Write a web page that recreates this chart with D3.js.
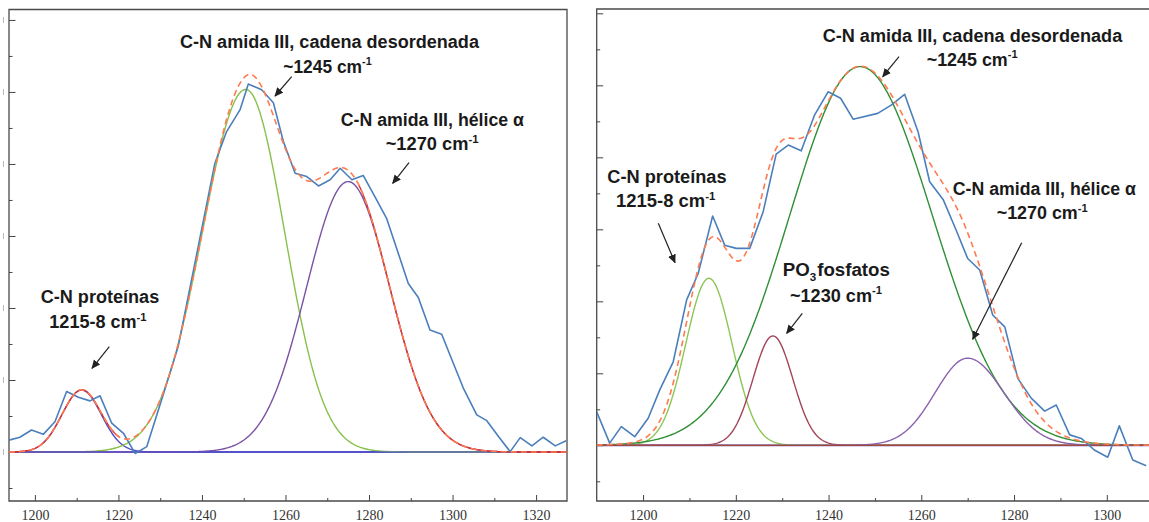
<!DOCTYPE html>
<html lang="es">
<head>
<meta charset="UTF-8">
<title>Deconvolución banda amida III</title>
<style>
  body { margin: 0; background: #fff; }
  svg { display: block; }
  .axis .tick text { font-family: "Liberation Serif", "Times New Roman", serif; font-size: 14px; fill: #333; }
  .axis .tick line { stroke: #444; }
  .note { font-family: "Liberation Sans Narrow", "Liberation Sans", Arial, sans-serif; font-weight: bold; font-size: 18.5px; fill: #1a1a1a; }
</style>
</head>
<body>
<svg id="chart" width="1149" height="522"></svg>
<script src="https://cdn.jsdelivr.net/npm/d3@7"></script>
<script>
// ---------- left spectrum: measured points (cm-1, absorbance in tick units) ----------
const wnA  = [1193.8, 1196.4, 1199.2, 1202.0, 1204.8, 1207.6, 1210.4, 1213.2, 1215.6, 1218.4,
              1221.2, 1224.0, 1226.8, 1230.7, 1234.3, 1239.1, 1243.1, 1245.9, 1249.1, 1251.1,
              1254.3, 1257.1, 1259.5, 1262.3, 1265.1, 1267.9, 1270.7, 1273.1, 1275.9, 1278.6,
              1281.4, 1284.2, 1286.6, 1289.4, 1291.8, 1294.6, 1297.4, 1300.2, 1302.6, 1305.8,
              1308.2, 1311.0, 1313.8, 1316.2, 1319.0, 1321.7, 1324.6, 1327.2];
const absA = [0.33, 0.41, 0.61, 0.49, 0.84, 1.68, 1.52, 1.42, 1.56, 0.80,
              0.52, -0.04, 0.15, 1.58, 2.93, 5.70, 8.02, 8.90, 9.50, 10.22,
              10.06, 9.70, 8.62, 7.74, 7.65, 7.39, 7.56, 7.88, 7.56, 7.68,
              7.09, 6.49, 5.66, 4.68, 4.29, 3.39, 3.27, 2.46, 1.77, 1.03,
              0.87, 0.43, 0.01, 0.40, 0.17, 0.41, 0.17, 0.31];
// fitted bands: proteínas, cadena desordenada, hélice α
const centerA = [1211.2, 1250.5, 1275.0];
const heightA = [1.72, 10.07, 7.51];
const sigLA   = [4.7, 10.4, 10.0];
const sigRA   = [4.7, 9.3, 10.0];
const xTicksA = [1200, 1220, 1240, 1260, 1280, 1300, 1320];

// ---------- right spectrum ----------
const wnB  = [1190.0, 1192.8, 1195.3, 1198.2, 1201.1, 1203.6, 1206.5, 1209.4, 1211.9, 1215.0,
              1217.6, 1220.1, 1223.0, 1225.9, 1228.7, 1231.3, 1234.1, 1237.0, 1239.9, 1242.6,
              1245.3, 1250.6, 1253.5, 1256.4, 1259.3, 1261.8, 1264.7, 1267.5, 1270.0, 1272.6,
              1275.4, 1278.0, 1280.8, 1283.7, 1286.6, 1289.1, 1292.0, 1294.5, 1297.3, 1300.2,
              1302.7, 1305.6, 1308.5];
const absB = [0.93, 0.06, 0.52, 0.24, 0.75, 1.54, 2.32, 4.04, 4.78, 6.37,
              5.56, 5.47, 5.47, 6.49, 8.09, 8.34, 8.18, 9.18, 9.82, 9.64,
              9.06, 9.22, 9.45, 9.75, 8.71, 7.32, 6.83, 5.98, 5.19, 4.87,
              3.62, 3.29, 1.86, 1.31, 0.95, 1.12, 0.29, 0.19, -0.13, -0.33,
              0.54, -0.41, -0.57];
// fitted bands: proteínas, PO3 fosfatos, cadena desordenada, hélice α
const centerB = [1214.2, 1228.0, 1246.8, 1270.0];
const heightB = [4.64, 3.04, 10.52, 2.42];
const sigLB   = [5.0, 4.3, 15.2, 7.0];
const sigRB   = [5.0, 4.3, 15.6, 7.8];
const xTicksB = [1200, 1220, 1240, 1260, 1280, 1300];

const svg = d3.select("#chart");

svg.append("defs").append("marker")
    .attr("id", "arrow")
    .attr("viewBox", "0 -5 10 10")
    .attr("refX", 9).attr("refY", 0)
    .attr("markerUnits", "userSpaceOnUse")
    .attr("markerWidth", 9).attr("markerHeight", 9)
    .attr("orient", "auto")
  .append("path")
    .attr("d", "M0,-4.5L10,0L0,4.5Z")
    .attr("fill", "#222");

const panels = [
  {
    id: "A", wn: wnA, abs: absA, center: centerA, height: heightA, sigL: sigLA, sigR: sigRA,
    xTicks: xTicksA, left: 9, right: 567, top: 9.5, bottom: 501,
    xDomain: [1193.8, 1327.4], yDomain: [-1.361, 12.29], yMax: 12,
    colors: ["#4a4ac6", "#88c04c", "#7a52a4"],
    base: ["#9a88c8", "#4c4cd0"], redBand: 1, rightBorder: true, stubs: true
  },
  {
    id: "B", wn: wnB, abs: absB, center: centerB, height: heightB, sigL: sigLB, sigR: sigRB,
    xTicks: xTicksB, left: 596.7, right: 1149, top: 9, bottom: 501,
    xDomain: [1190, 1309.1], yDomain: [-1.547, 12.12], yMax: 12,
    colors: ["#8cc657", "#a3465a", "#2f8f35", "#8a62ae"],
    base: ["#b9a2d6", "#9b4a3c"], redBand: -1, rightBorder: false, stubs: false
  }
];

function band(c, h, sl, sr) {
  return x => { const s = x < c ? sl : sr; return h * Math.exp(-((x - c) ** 2) / (2 * s * s)); };
}

panels.forEach(p => {
  const x = d3.scaleLinear().domain(p.xDomain).range([p.left, p.right]);
  const y = d3.scaleLinear().domain(p.yDomain).range([p.bottom, p.top]);
  const g = svg.append("g");

  g.append("clipPath").attr("id", "clip" + p.id)
    .append("rect")
      .attr("x", p.left).attr("y", p.top)
      .attr("width", p.right - p.left).attr("height", p.bottom - p.top);

  // y ticks (inward, no labels)
  const yVals = d3.range(-1, p.yMax + 1);
  g.append("g").attr("class", "axis")
      .attr("transform", `translate(${p.left},0)`)
      .call(d3.axisLeft(y).tickValues(yVals).tickSize(0).tickFormat(""))
    .call(a => a.select(".domain").remove())
    .call(a => a.selectAll(".tick line")
        .attr("x2", v => v % 2 === 0 ? 6.5 : 3.5));

  if (p.stubs) {
    g.append("g").selectAll("line")
      .data(yVals.filter(v => v % 2 === 0))
      .join("line")
        .attr("x1", 3.5).attr("x2", 3.5)
        .attr("y1", v => y(v) - 3).attr("y2", v => y(v) + 3)
        .attr("stroke", "#bbb");
  }

  // x axis: major ticks with labels, minor ticks between
  g.append("g").attr("class", "axis")
      .attr("transform", `translate(0,${p.bottom})`)
      .call(d3.axisBottom(x).tickValues(p.xTicks).tickSize(-6).tickPadding(9).tickFormat(d3.format("d")))
    .call(a => a.select(".domain").remove());
  g.append("g").attr("class", "axis")
      .attr("transform", `translate(0,${p.bottom})`)
      .call(d3.axisBottom(x).tickValues(p.xTicks.map(t => t + 10).filter(t => t < p.xDomain[1]))
              .tickSize(-3).tickFormat(""))
    .call(a => a.select(".domain").remove());

  // frame
  const frame = d3.path();
  frame.moveTo(p.right, p.top); frame.lineTo(p.left, p.top);
  frame.lineTo(p.left, p.bottom); frame.lineTo(p.right, p.bottom);
  if (p.rightBorder) frame.closePath();
  g.append("path").attr("d", frame.toString())
    .attr("fill", "none").attr("stroke", "#4a4a4a").attr("stroke-width", 1.3);

  const plot = g.append("g").attr("clip-path", `url(#clip${p.id})`);
  const xs = d3.range(p.xDomain[0], p.xDomain[1] + 0.25, 0.25);
  const fns = p.center.map((c, i) => band(c, p.height[i], p.sigL[i], p.sigR[i]));
  const total = xs.map(v => [v, d3.sum(fns, f => f(v))]);
  const line = d3.line().x(d => x(d[0])).y(d => y(d[1]));

  // zero baseline
  plot.append("path").attr("d", line([[p.xDomain[0], 0], [p.xDomain[1], 0]]))
    .attr("fill", "none").attr("stroke", p.base[0]).attr("stroke-width", 2.2);

  fns.forEach((f, i) => {
    plot.append("path").attr("d", line(xs.map(v => [v, f(v)])))
      .attr("fill", "none").attr("stroke", p.colors[i]).attr("stroke-width", 1.4);
  });

  plot.append("path").attr("d", line([[p.xDomain[0], 0], [p.xDomain[1], 0]]))
    .attr("fill", "none").attr("stroke", p.base[1]).attr("stroke-width", 1.2);

  // solid red fit, shown where the main (disordered) band has faded out
  if (p.redBand >= 0) {
    const main = fns[p.redBand];
    const redLine = d3.line().defined(d => main(d[0]) < 0.15).x(d => x(d[0])).y(d => y(d[1]));
    plot.append("path").attr("d", redLine(total))
      .attr("fill", "none").attr("stroke", "#e0302a").attr("stroke-width", 1.3);
  }

  plot.append("path").attr("d", line(p.wn.map((v, i) => [v, p.abs[i]])))
    .attr("fill", "none").attr("stroke", "#4a7fbc").attr("stroke-width", 1.6)
    .attr("stroke-linejoin", "round");

  plot.append("path").attr("d", line(total))
    .attr("fill", "none").attr("stroke", "#ff7a4f").attr("stroke-width", 1.6)
    .attr("stroke-dasharray", "6,4");
});

// ---------- annotations ----------
const notes = [
  { lines: [[["C-N amida III, cadena desordenada"]], 180, 48.3, 300],
    sub: [[["~1245 cm"], ["-1", "sup"]], 283.3, 72.7, 89], arrow: [291.7, 76.7, 275, 96] },
  { lines: [[["C-N amida III, hélice α"]], 340.7, 126, 184],
    sub: [[["~1270 cm"], ["-1", "sup"]], 385.7, 150, 93.5], arrow: [409, 162.7, 392.7, 183.3] },
  { lines: [[["C-N proteínas"]], 40.7, 303.3, 118.6],
    sub: [[["1215-8 cm"], ["-1", "sup"]], 49.3, 328.3, 98], arrow: [109.3, 346.7, 92, 368.3] },
  { lines: [[["C-N amida III, cadena desordenada"]], 822.7, 41.7, 300.6],
    sub: [[["~1245 cm"], ["-1", "sup"]], 926.7, 65.7, 91.6], arrow: [899, 56.7, 882.7, 76.7] },
  { lines: [[["C-N amida III, hélice α"]], 952.7, 195, 184],
    sub: [[["~1270 cm"], ["-1", "sup"]], 996.7, 219, 91.6], arrow: [1021.7, 242.7, 972.7, 339.3] },
  { lines: [[["C-N proteínas"]], 607.3, 183.3, 119.4],
    sub: [[["1215-8 cm"], ["-1", "sup"]], 616, 207.3, 100], arrow: [658.3, 223.3, 675, 262.7] },
  { lines: [[["PO"], ["3", "sub"], ["fosfatos", "after"]], 782.7, 276, 107.3],
    sub: [[["~1230 cm"], ["-1", "sup"]], 790, 301.7, 92.7], arrow: [802.3, 313.3, 786.7, 333.3] }
];

const noteLayer = svg.append("g");

function writeLine(parts, x0, yb, w) {
  const grp = noteLayer.append("g");
  const t = grp.append("text").attr("class", "note");
  parts.forEach(([s, kind]) => {
    const ts = t.append("tspan").text(s);
    if (kind === "sup") ts.attr("font-size", 11.5).attr("dy", -7.5);
    if (kind === "sub") ts.attr("font-size", 11.5).attr("dy", 5);
    if (kind === "after") ts.attr("dy", -5).attr("dx", 1);
  });
  const bb = t.node().getBBox();
  const k = w / bb.width;
  grp.attr("transform", `translate(${x0 - bb.x * k},${yb}) scale(${k},1)`);
}

notes.forEach(n => {
  writeLine(...n.lines);
  writeLine(...n.sub);
  const [x1, y1, x2, y2] = n.arrow;
  noteLayer.append("line")
    .attr("x1", x1).attr("y1", y1).attr("x2", x2).attr("y2", y2)
    .attr("stroke", "#222").attr("stroke-width", 1.2)
    .attr("marker-end", "url(#arrow)");
});
</script>
</body>
</html>
